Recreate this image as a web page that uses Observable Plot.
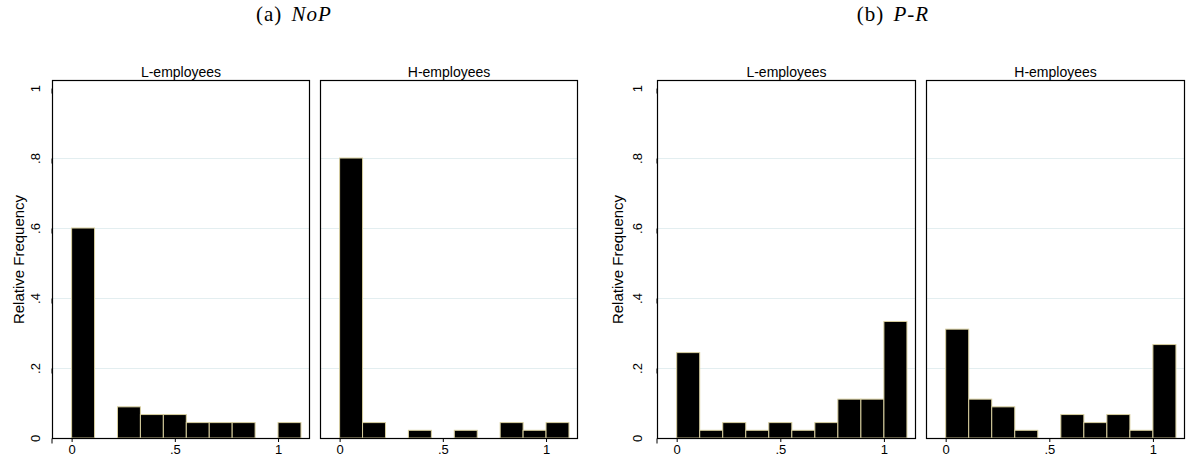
<!DOCTYPE html>
<html>
<head>
<meta charset="utf-8">
<script src="https://cdn.jsdelivr.net/npm/d3@7"></script>
<script src="https://cdn.jsdelivr.net/npm/@observablehq/plot@0.6"></script>
<style>
  html, body { margin: 0; padding: 0; background: #fff; }
  #root { position: relative; width: 1186px; height: 463px; overflow: hidden; }
  .ptitle { position: absolute; top: 1px; font-family: "Liberation Serif", "DejaVu Serif", serif; font-size: 21px; line-height: 26px; letter-spacing: 1px; word-spacing: 3px; color: #000; white-space: nowrap; transform: translateX(-50%); }
  .ptitle i { font-style: italic; }
  .panel { position: absolute; top: 0; }
</style>
</head>
<body>
<div id="root">
  <div class="ptitle" style="left:294px">(a) <i>NoP</i></div>
  <div class="ptitle" style="left:893px">(b) <i>P-R</i></div>
  <div class="panel" id="pa" style="left:0px"></div>
  <div class="panel" id="pb" style="left:596px"></div>
</div>
<script>
// ---- data ----
const facets = ["L-employees", "H-employees"];
const binLo = [0, 0.1111, 0.2222, 0.3333, 0.4444, 0.5556, 0.6667, 0.7778, 0.8889, 1.0];
const binHi = [0.1111, 0.2222, 0.3333, 0.4444, 0.5556, 0.6667, 0.7778, 0.8889, 1.0, 1.1111];
// Relative frequencies
const nopL = [0.600, 0, 0.089, 0.067, 0.067, 0.044, 0.044, 0.044, 0, 0.044];
const nopH = [0.800, 0.044, 0, 0.022, 0, 0.022, 0, 0.044, 0.022, 0.044];
const prL  = [0.244, 0.022, 0.044, 0.022, 0.044, 0.022, 0.044, 0.111, 0.111, 0.333];
const prH  = [0.311, 0.111, 0.089, 0.022, 0, 0.067, 0.044, 0.067, 0.022, 0.267];
const yTicks = [0, 0.2, 0.4, 0.6, 0.8, 1];
const yTickLabels = ["0", ".2", ".4", ".6", ".8", "1"];
const yGrid = [0.2, 0.4, 0.6, 0.8];
const xTicks = [0, 0.5, 1];
const xTickLabels = ["0", ".5", "1"];
const yLabel = "Relative Frequency";

function rows(L, H) {
  const out = [];
  [[facets[0], L], [facets[1], H]].forEach(([f, vals]) => {
    vals.forEach((v, i) => { if (v > 0) out.push({facet: f, x1: binLo[i], x2: binHi[i], y: v}); });
  });
  return out;
}

function panel(L, H, o) {
  return Plot.plot({
    width: o.width, height: 463,
    marginTop: 80, marginBottom: 25, marginLeft: o.ml, marginRight: o.mr,
    style: {fontFamily: "'Liberation Sans', Arial, sans-serif", fontSize: "13px", color: "#000", background: "transparent", overflow: "visible"},
    fx: {domain: facets, paddingInner: 0.042, paddingOuter: 0, label: null},
    x: {domain: [-0.095, 1.15]},
    y: {domain: [0, 1.023]},
    marks: [
      Plot.gridY(yGrid, {stroke: "#e3eef0", strokeOpacity: 1}),
      Plot.rectY(rows(L, H), {fx: "facet", x1: "x1", x2: "x2", y: "y", fill: "#000", stroke: "#d8cf9f", strokeWidth: 1}),
      Plot.frame({stroke: "#000", strokeWidth: 1.2}),
      Plot.axisY(yTicks, {tickFormat: d => yTickLabels[yTicks.indexOf(d)], tickSize: 5, tickPadding: o.tp, rotate: -90, textAnchor: "middle",
        label: null, fontSize: 13}),
      Plot.text([yLabel], {fx: [facets[0]], text: d => d, frameAnchor: "left", dx: -o.lo, rotate: -90, textAnchor: "middle", fontSize: 15}),
      Plot.axisX(xTicks, {tickFormat: d => xTickLabels[xTicks.indexOf(d)], tickSize: 4, tickPadding: 2, label: null, fontSize: 13}),
      Plot.axisFx({anchor: "top", label: null, tickSize: 0, tickPadding: 4, fontSize: 14})
    ]
  });
}

document.getElementById("pa").appendChild(panel(nopL, nopH, {width: 596, ml: 51, mr: 19, tp: 12, lo: 33}));
document.getElementById("pb").appendChild(panel(prL, prH, {width: 590, ml: 61, mr: 2, tp: 15, lo: 39}));
</script>
</body>
</html>
